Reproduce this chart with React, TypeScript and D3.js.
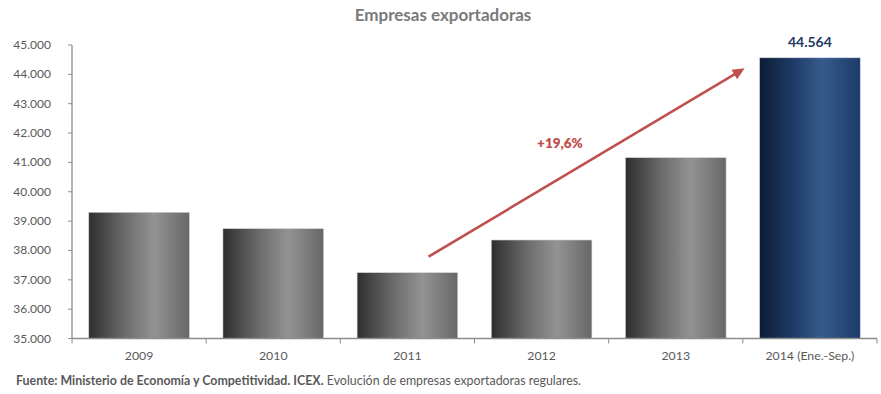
import React from "react";
import * as d3 from "d3";

const categories = ["2009", "2010", "2011", "2012", "2013", "2014 (Ene.-Sep.)"];
const values = [39300, 38741, 37242, 38356, 41160, 44564];
const yTicks = [35000, 36000, 37000, 38000, 39000, 40000, 41000, 42000, 43000, 44000, 45000];
const highlightIndex = 5;
const growthLabel = "+19,6%";
const titleText = "Empresas exportadoras";
const sourceBold = "Fuente: Ministerio de Economía y Competitividad. ICEX.";
const sourceNormal = " Evolución de empresas exportadoras regulares.";

const W = 881;
const H = 394;
const FONT = "Lato, 'Open Sans', sans-serif";

export default function App() {
  const x = d3.scaleBand<string>().domain(categories).range([72, 877]).paddingInner(0.25).paddingOuter(0.125);
  const y = d3.scaleLinear().domain([35000, 45000]).range([338.5, 45]);
  const fmt = (v: number) => d3.format(",")(v).replace(/,/g, ".");
  const bw = x.bandwidth();
  const step = x.step();

  // growth arrow: from above the 2011 bar to beside the 2014 bar
  const ax1 = x(categories[2])! + bw * 0.71;
  const ay1 = y(37787);
  const ax2 = x(categories[5])! - 15;
  const ay2 = y(44206);
  const ang = Math.atan2(ay2 - ay1, ax2 - ax1);
  const hl = 12, hw = 5.5;
  const head = [
    [ax2, ay2],
    [ax2 - hl * Math.cos(ang) + hw * Math.sin(ang), ay2 - hl * Math.sin(ang) - hw * Math.cos(ang)],
    [ax2 - hl * Math.cos(ang) - hw * Math.sin(ang), ay2 - hl * Math.sin(ang) + hw * Math.cos(ang)],
  ];

  return (
    <svg width={W} height={H} style={{ position: "absolute", left: 0, top: 0, background: "#fff" }}>
      <defs>
        <linearGradient id="gGray" x1="0" x2="1" y1="0" y2="0">
          <stop offset="0" stopColor="#2e2e2e" />
          <stop offset="0.35" stopColor="#6a6a6a" />
          <stop offset="0.65" stopColor="#939393" />
          <stop offset="1" stopColor="#676767" />
        </linearGradient>
        <linearGradient id="gBlue" x1="0" x2="1" y1="0" y2="0">
          <stop offset="0" stopColor="#0d1d35" />
          <stop offset="0.35" stopColor="#1f3d68" />
          <stop offset="0.62" stopColor="#365b8c" />
          <stop offset="1" stopColor="#1c3b69" />
        </linearGradient>
      </defs>

      <text x={443} y={21} textAnchor="middle" fontFamily={FONT} fontWeight={700} fontSize={17} fill="#7a7a7a">
        {titleText}
      </text>

      {/* bars */}
      {values.map((v, i) => (
        <rect
          key={categories[i]}
          x={x(categories[i])}
          y={y(v)}
          width={bw}
          height={y(35000) - y(v)}
          fill={i === highlightIndex ? "url(#gBlue)" : "url(#gGray)"}
          stroke={i === highlightIndex ? "#c9d3e0" : "#d0d0d0"}
          strokeWidth={0.6}
        />
      ))}

      {/* y axis */}
      <line x1={72} x2={72} y1={y(45000)} y2={y(35000)} stroke="#8c8c8c" strokeWidth={1.3} />
      {yTicks.map((t) => (
        <g key={t}>
          <line x1={68} x2={72} y1={y(t)} y2={y(t)} stroke="#8c8c8c" strokeWidth={1} />
          <text x={51} y={y(t) + 4} textAnchor="end" fontFamily={FONT} fontSize={12} fill="#595959">
            {fmt(t)}
          </text>
        </g>
      ))}

      {/* x axis */}
      <line x1={72} x2={877} y1={y(35000)} y2={y(35000)} stroke="#8c8c8c" strokeWidth={1.3} />
      {categories.map((c) => (
        <line key={"t" + c} x1={x(c)! - step * 0.125} x2={x(c)! - step * 0.125} y1={y(35000)} y2={y(35000) + 5} stroke="#8c8c8c" />
      ))}
      <line x1={877} x2={877} y1={y(35000)} y2={y(35000) + 5} stroke="#8c8c8c" />
      {categories.map((c) => (
        <text key={"l" + c} x={x(c)! + bw / 2} y={360} textAnchor="middle" fontFamily={FONT} fontSize={12.3} fill="#595959">
          {c}
        </text>
      ))}

      {/* value label */}
      <text
        x={x(categories[highlightIndex])! + bw / 2}
        y={47}
        textAnchor="middle"
        fontFamily={FONT}
        fontWeight={700}
        fontSize={14}
        fill="#1f3864"
      >
        {fmt(values[highlightIndex])}
      </text>

      {/* growth arrow */}
      <line x1={ax1} y1={ay1} x2={ax2 - 8 * Math.cos(ang)} y2={ay2 - 8 * Math.sin(ang)} stroke="#c0504d" strokeWidth={2.6} />
      <polygon points={head.map((p) => p.join(",")).join(" ")} fill="#c0504d" />
      <text x={560} y={148} textAnchor="middle" fontFamily={FONT} fontWeight={800} fontSize={13.5} fill="#c0504d">
        {growthLabel}
      </text>

      <text x={16} y={385} fontFamily={FONT} fontSize={12.4} fill="#595959">
        <tspan fontWeight={700}>{sourceBold}</tspan>
        <tspan>{sourceNormal}</tspan>
      </text>
    </svg>
  );
}
